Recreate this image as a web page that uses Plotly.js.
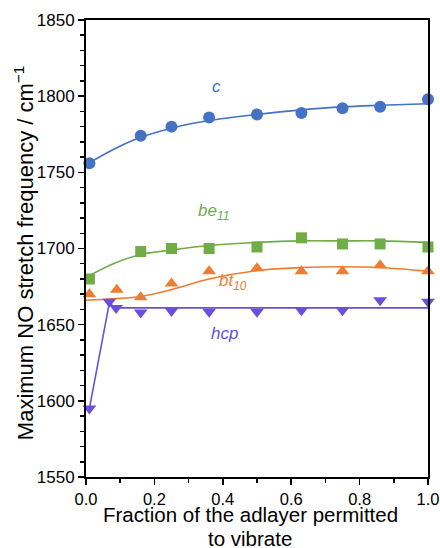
<!DOCTYPE html>
<html>
<head>
<meta charset="utf-8">
<script src="https://cdn.plot.ly/plotly-3.0.1.min.js"></script>
<style>
  html, body { margin: 0; padding: 0; background: #fff; }
  #chart { width: 440px; height: 548px; }
</style>
</head>
<body>
<div id="chart"></div>
<script>
// Site c
const cX = [0.01, 0.16, 0.25, 0.36, 0.50, 0.63, 0.75, 0.86, 1.00];
const cY = [1756, 1774, 1780, 1786, 1788, 1789, 1792, 1793, 1798];
const cFitX = [0.0, 0.08, 0.16, 0.25, 0.36, 0.50, 0.63, 0.75, 0.86, 1.00];
const cFitY = [1755, 1765, 1773, 1779, 1784, 1788, 1791, 1793, 1794, 1795];

// Site be11
const beX = [0.01, 0.16, 0.25, 0.36, 0.50, 0.63, 0.75, 0.86, 1.00];
const beY = [1680, 1698, 1700, 1700, 1701, 1707, 1703, 1703, 1701];
const beFitX = [0.0, 0.08, 0.16, 0.25, 0.36, 0.50, 0.63, 0.75, 0.86, 1.00];
const beFitY = [1681, 1690, 1696, 1699, 1702, 1704, 1705, 1705, 1705, 1704];

// Site bt10
const btX = [0.01, 0.09, 0.16, 0.25, 0.36, 0.50, 0.63, 0.75, 0.86, 1.00];
const btY = [1670, 1673, 1668, 1677, 1685, 1687, 1685, 1685, 1689, 1685];
const btFitX = [0.0, 0.08, 0.16, 0.25, 0.36, 0.50, 0.63, 0.75, 0.86, 1.00];
const btFitY = [1666, 1667, 1668.5, 1673, 1680, 1685.5, 1687.5, 1688, 1687.5, 1685];

// Site hcp
const hcpX = [0.01, 0.068, 0.088, 0.16, 0.25, 0.36, 0.50, 0.63, 0.75, 0.86, 1.00];
const hcpY = [1595, 1665, 1661, 1658, 1659, 1658.5, 1658.5, 1659.5, 1659.5, 1666, 1665];
const hcpFitX = [0.01, 0.068, 0.088, 1.00];
const hcpFitY = [1595, 1664, 1661, 1661];

const BLUE = '#4472C4', GREEN = '#70AD47', ORANGE = '#ED7D31', PURPLE = '#6A4FD9';
const FONT = 'Liberation Sans, Arial, sans-serif';

function fit(x, y, color, shape) {
  return { x, y, mode: 'lines', type: 'scatter', hoverinfo: 'skip',
           line: { color, width: 1.6, shape: shape, smoothing: 1 } };
}
function pts(x, y, color, symbol, size) {
  return { x, y, mode: 'markers', type: 'scatter', cliponaxis: false,
           marker: { color, symbol, size, line: { width: 0 } } };
}

const traces = [
  fit(cFitX, cFitY, BLUE, 'spline'),
  fit(beFitX, beFitY, GREEN, 'spline'),
  fit(btFitX, btFitY, ORANGE, 'spline'),
  fit(hcpFitX, hcpFitY, PURPLE, 'linear'),
  pts(cX, cY, BLUE, 'circle', 12),
  pts(beX, beY, GREEN, 'square', 11),
  pts(btX, btY, ORANGE, 'triangle-up', 12),
  pts(hcpX, hcpY, PURPLE, 'triangle-down', 12)
];

const labels = [
  { x: 0.382, y: 1806.5, text: '<i>c</i>', color: BLUE },
  { x: 0.374, y: 1724, text: '<i>be<sub>11</sub></i>', color: GREEN },
  { x: 0.43, y: 1678, text: '<i>bt<sub>10</sub></i>', color: ORANGE },
  { x: 0.405, y: 1644.5, text: '<i>hcp</i>', color: PURPLE }
];

const seriesLabels = labels.map(l => ({
  x: l.x, y: l.y, xref: 'x', yref: 'y', text: l.text, showarrow: false,
  font: { family: FONT, size: 17, color: l.color }
}));

// axis titles placed as paper annotations for precise positioning
const titleFont = { family: FONT, size: 20.5, color: '#000' };
const axisTitles = [
  { x: 0.48, y: -0.083, xref: 'paper', yref: 'paper', xanchor: 'center', yanchor: 'middle',
    text: 'Fraction of the adlayer permitted', showarrow: false, font: titleFont, borderpad: 0 },
  { x: 0.48, y: -0.134, xref: 'paper', yref: 'paper', xanchor: 'center', yanchor: 'middle',
    text: 'to vibrate', showarrow: false, font: titleFont, borderpad: 0 },
  { x: -0.181, y: 0.49, xref: 'paper', yref: 'paper', xanchor: 'center', yanchor: 'middle',
    textangle: -90, text: 'Maximum NO stretch frequency / cm<sup>−1</sup>', showarrow: false,
    font: { family: FONT, size: 22, color: '#000' } }
];

const axisCommon = {
  showgrid: false, zeroline: false,
  showline: true, linecolor: '#000', linewidth: 2, mirror: true,
  ticks: 'outside', ticklen: 6, tickwidth: 1.5, tickcolor: '#000',
  automargin: false
};

const layout = {
  width: 440, height: 548,
  margin: { l: 86, r: 12, t: 20, b: 71 },
  paper_bgcolor: '#fff', plot_bgcolor: '#fff',
  showlegend: false,
  font: { family: FONT, color: '#000' },
  xaxis: Object.assign({}, axisCommon, {
    range: [0, 1], dtick: 0.2, tickformat: '.1f', tickfont: { size: 16.5 },
    minor: { dtick: 0.1, ticks: 'outside', ticklen: 4, tickwidth: 1.5, tickcolor: '#000' }
  }),
  yaxis: Object.assign({}, axisCommon, {
    range: [1550, 1850], dtick: 50, tickfont: { size: 17 },
    minor: { dtick: 10, ticks: 'outside', ticklen: 4, tickwidth: 1.5, tickcolor: '#000' }
  }),
  annotations: seriesLabels.concat(axisTitles)
};

Plotly.newPlot('chart', traces, layout, { staticPlot: true, displayModeBar: false });
</script>
</body>
</html>
